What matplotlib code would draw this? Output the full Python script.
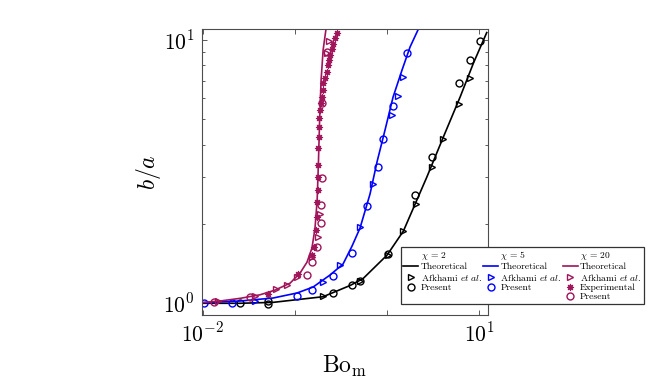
import matplotlib

matplotlib.use("Agg")
import matplotlib.pyplot as plt
from matplotlib.lines import Line2D
from matplotlib.ticker import FixedLocator, LogLocator, NullFormatter, NullLocator

plt.rcParams["font.family"] = "serif"
plt.rcParams["font.serif"] = ["cmr10", "DejaVu Serif"]
plt.rcParams["mathtext.fontset"] = "cm"
plt.rcParams["axes.formatter.use_mathtext"] = True

# chi = 2 (black)
th2_x = [0.0096, 0.0254, 0.0579, 0.2018, 0.396, 0.548, 0.998, 1.499, 2.689, 4.07, 6.18, 8.61, 12.0]
th2_y = [0.998, 0.998, 1.006, 1.057, 1.166, 1.239, 1.522, 1.878, 3.01, 4.28, 6.07, 8.16, 10.66]
af2_x = [0.203, 0.508, 1.023, 1.499, 2.058, 3.045, 4.07, 6.07, 7.93]
af2_y = [1.059, 1.212, 1.522, 1.878, 2.37, 3.30, 4.19, 5.71, 7.15]
pr2_x = [0.0254, 0.0511, 0.0511, 0.261, 0.413, 0.508, 1.023, 2.007, 3.045, 6.07, 7.93, 10.18]
pr2_y = [1.0, 1.018, 0.991, 1.089, 1.17, 1.212, 1.535, 2.575, 3.60, 6.84, 8.39, 9.94]

# chi = 5 (blue)
th5_x = [0.0096, 0.0254, 0.0579, 0.1054, 0.157, 0.240, 0.332, 0.416, 0.508, 0.652, 0.776, 0.948,
         1.159, 1.45, 1.77, 2.18]
th5_y = [1.002, 1.018, 1.045, 1.092, 1.15, 1.278, 1.407, 1.647, 1.93, 2.60, 3.44, 4.55,
         6.07, 7.69, 9.40, 11.0]
af5_x = [0.0369, 0.199, 0.308, 0.508, 0.708, 1.122, 1.323, 1.499]
af5_y = [1.018, 1.207, 1.394, 1.945, 2.835, 5.19, 6.12, 7.25]
pr5_x = [0.01041, 0.02063, 0.1041, 0.152, 0.259, 0.411, 0.610, 0.803, 0.909, 1.15, 1.632]
pr5_y = [1.0, 1.0, 1.068, 1.12, 1.267, 1.553, 2.33, 3.30, 4.19, 5.61, 8.95]

# chi = 20 (purple)
th20_x = [0.0096, 0.0154, 0.0254, 0.0418, 0.0608, 0.0885, 0.1135, 0.135, 0.153, 0.165, 0.174,
          0.180, 0.185, 0.192, 0.202, 0.217]
th20_y = [1.004, 1.018, 1.042, 1.075, 1.12, 1.19, 1.30, 1.43, 1.62, 1.93, 2.46,
          3.50, 4.96, 7.05, 9.16, 11.0]
af20_x = [0.01466, 0.0369, 0.0624, 0.082, 0.1054, 0.1513, 0.178, 0.185, 0.2245, 0.236]
af20_y = [1.018, 1.059, 1.13, 1.17, 1.256, 1.49, 1.775, 2.18, 8.9, 9.94]
ex20_x = [0.0515, 0.108, 0.1544, 0.1623, 0.168, 0.1723, 0.175, 0.1766, 0.178, 0.1794, 0.1794,
          0.181, 0.1825, 0.184, 0.187, 0.1905, 0.195, 0.200, 0.203, 0.212, 0.221, 0.230,
          0.236, 0.240, 0.2506, 0.261, 0.272, 0.284]
ex20_y = [1.08, 1.29, 1.52, 1.64, 1.90, 2.13, 2.43, 2.69, 3.02, 3.35, 3.87,
          4.29, 4.66, 5.04, 5.42, 5.75, 6.09, 6.45, 6.84, 7.15, 7.58, 8.03,
          8.39, 8.77, 9.22, 9.66, 10.15, 10.66]
pr20_x = [0.01327, 0.0326, 0.1336, 0.152, 0.1714, 0.1895, 0.1895, 0.1953, 0.198, 0.2213]
pr20_y = [1.013, 1.054, 1.278, 1.432, 1.633, 2.014, 2.36, 2.99, 5.75, 9.03]

x_ticks = [0.01, 0.1, 1, 10]
x_ticklabels = ["$10^{-2}$", "", "", "$10^{1}$"]
y_ticks = [1, 10]
y_ticklabels = ["$10^{0}$", "$10^{1}$"]

PURPLE = "#a0145a"
BLUE = "#0000ff"
BLACK = "#000000"

fig = plt.figure(figsize=(6.64, 3.83), dpi=100)
ax = fig.add_axes([0.3035, 0.1783, 0.4315, 0.746])

mk = dict(linestyle="none", markersize=5, markeredgewidth=1.0, markerfacecolor="none")

for th_x, th_y, af_x, af_y, pr_x, pr_y, c in [
    (th2_x, th2_y, af2_x, af2_y, pr2_x, pr2_y, BLACK),
    (th5_x, th5_y, af5_x, af5_y, pr5_x, pr5_y, BLUE),
    (th20_x, th20_y, af20_x, af20_y, pr20_x, pr20_y, PURPLE),
]:
    ax.plot(th_x, th_y, color=c, lw=1.2)
    ax.plot(af_x, af_y, marker=">", color=c, **mk)
    ax.plot(pr_x, pr_y, marker="o", color=c, **mk)
ax.plot(ex20_x, ex20_y, linestyle="none", marker=(8, 1, 0), markersize=5,
        color=PURPLE, markeredgewidth=0.6)

ax.set_xscale("log")
ax.set_yscale("log")
ax.set_xlim(0.0097, 12.4)
ax.set_ylim(0.903, 11.0)

ax.xaxis.set_major_locator(FixedLocator(x_ticks))
ax.set_xticklabels(x_ticklabels)
ax.xaxis.set_minor_locator(NullLocator())
ax.yaxis.set_major_locator(FixedLocator(y_ticks))
ax.set_yticklabels(y_ticklabels)
ax.yaxis.set_minor_locator(LogLocator(base=10, subs=range(2, 10)))
ax.yaxis.set_minor_formatter(NullFormatter())

ax.tick_params(which="both", direction="in", top=True, right=True, labelsize=15.5,
               color="0.25", width=0.6)
ax.tick_params(which="major", length=3.5, pad=5)
ax.tick_params(which="minor", length=2.5)
for s in ax.spines.values():
    s.set_color("0.3")
    s.set_linewidth(0.8)

ax.set_xlabel(r"$\mathrm{Bo_m}$", fontsize=17, labelpad=6)
ax.set_ylabel(r"$b/a$", fontsize=17, labelpad=0)

blank = Line2D([], [], linestyle="none", marker="none")
hs, ls = [], []
for c, chi in [(BLACK, 2), (BLUE, 5), (PURPLE, 20)]:
    hs += [blank, Line2D([], [], color=c, lw=1.2),
           Line2D([], [], color=c, marker=">", **mk)]
    ls += [r"$\chi$ = %d" % chi, "Theoretical", r"Afkhami $\mathit{et\ al.}$"]
    if chi == 20:
        hs += [Line2D([], [], linestyle="none", marker=(8, 1, 0), markersize=5,
                      color=c, markeredgewidth=0.6)]
        ls += ["Experimental"]
    hs += [Line2D([], [], color=c, marker="o", **mk)]
    ls += ["Present"]
    if chi != 20:
        hs += [blank]
        ls += [""]

leg = ax.legend(hs, ls, ncol=3, loc="upper left", bbox_to_anchor=(401 / 664, 1 - 246.7 / 383),
                bbox_transform=fig.transFigure, borderaxespad=0, fontsize=6.9,
                handlelength=1.55, handletextpad=0.25, columnspacing=0.1,
                labelspacing=0.05, borderpad=0.25, fancybox=False, framealpha=1,
                edgecolor="0.2")
leg.get_frame().set_linewidth(0.9)

fig.savefig("out.png", dpi=100)
